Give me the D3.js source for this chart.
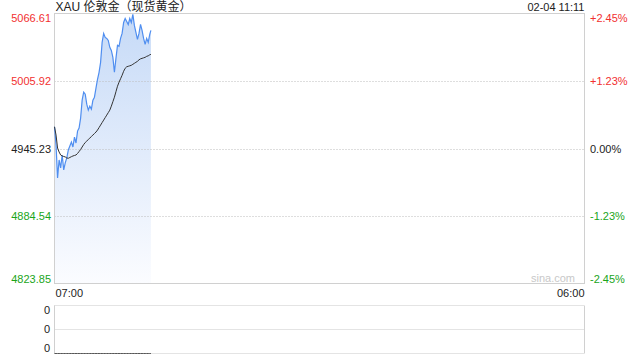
<!DOCTYPE html>
<meta charset="utf-8">
<head>
<title>XAU 伦敦金</title>
<script src="https://cdn.jsdelivr.net/npm/d3@7/dist/d3.min.js"></script>
<style>
  body { margin: 0; background: #fff; }
  svg text { font-family: Arial, "Liberation Sans", "Noto Sans CJK SC", sans-serif; font-size: 11px; }
</style>
</head>
<body>
<svg id="chart"></svg>
<script>
// minutes after 07:00
var minutes = [0,4,8,12,16,20,24,28,32,36,40,44,48,52,56,60,64,68,72,76,80,84,88,92,96,100,104,108,112,116,120,
  124,128,132,136,140,144,148,152,156,160,164,168,172,176,180,184,188,192,196,200,204,208,212,216,220,224,228,232,236,240,244,248,251];
var prices = [4964.76,4948.37,4918.80,4934.93,4927.76,4939.41,4925.97,4932.24,4936.72,4943.89,4947.47,4951.05,4946.57,4955.53,
  4950.16,4960.91,4963.59,4972.55,4988.68,4995.84,4994.05,4985.09,4979.72,4983.30,4980.61,4988.68,4991.36,4999.43,5007.49,
  5013.76,5022.72,5040.63,5048.69,5045.11,5044.22,5042.42,5036.15,5033.47,5027.20,5013.76,5026.30,5037.95,5037.05,5044.22,
  5048.69,5058.55,5062.13,5059.44,5056.76,5062.13,5058.55,5065.80,5055.86,5049.59,5043.32,5048.69,5056.76,5051.38,5044.22,
  5038.84,5044.22,5040.63,5047.80,5051.38];
var avgPrices = [4964.76,4957.32,4945.68,4942.09,4939.41,4938.51,4938.06,4937.62,4936.72,4936.45,4937.17,4937.88,4938.51,4938.96,
  4939.41,4940.75,4942.54,4944.33,4946.57,4948.81,4950.60,4951.95,4953.29,4954.64,4955.98,4957.32,4958.67,4960.01,4961.80,
  4964.04,4966.28,4968.52,4970.76,4973.00,4975.24,4977.48,4979.72,4983.30,4987.33,4991.36,4996.29,5001.22,5004.80,5007.94,
  5011.07,5014.65,5017.34,5018.69,5019.14,5019.58,5020.03,5020.93,5021.82,5022.72,5023.61,5024.96,5025.85,5026.30,5026.75,
  5027.20,5028.09,5028.54,5029.44,5029.88];
var volumes = [0,0,0,0,0,0,0,0,0,0,0,0,0,0,0,0,0,0,0,0,0,0,0,0,0,0,0,0,0,0,0,0,
  0,0,0,0,0,0,0,0,0,0,0,0,0,0,0,0,0,0,0,0,0,0,0,0,0,0,0,0,0,0,0,0];

var prevClose = 4945.23;
var priceTicks = [5066.61, 5005.92, 4945.23, 4884.54, 4823.85];
var pctTicks = ["+2.45%", "+1.23%", "0.00%", "-1.23%", "-2.45%"];
var timeTicks = ["07:00", "06:00"];
var volTicks = ["0", "0", "0"];
var title = "XAU 伦敦金（现货黄金）";
var stamp = "02-04 11:11";

var W = 640, H = 360;
var pLeft = 54.5, pRight = 584.5, pTop = 13.5, pBottom = 283.5;
var vTop = 305.5, vBottom = 353.5;

var svg = d3.select("#chart").attr("width", W).attr("height", H);

var x = d3.scaleLinear().domain([0, 1380]).range([pLeft, pRight]);
var y = d3.scaleLinear().domain([priceTicks[4], priceTicks[0]]).range([pBottom, pTop]);
var yv = d3.scaleLinear().domain([0, 1]).range([vBottom, vTop]);

var defs = svg.append("defs");
var grad = defs.append("linearGradient").attr("id", "fillGrad").attr("x1", 0).attr("y1", 0).attr("x2", 0).attr("y2", 1);
grad.append("stop").attr("offset", "0%").attr("stop-color", "#c6daf7");
grad.append("stop").attr("offset", "100%").attr("stop-color", "#fbfcff");

// area
var area = d3.area().x(function(d, i){ return x(minutes[i]); }).y0(pBottom).y1(function(d){ return y(d); });
svg.append("path").datum(prices).attr("d", area).attr("fill", "url(#fillGrad)");

// grid
var gridVals = priceTicks.slice(1, 4);
svg.selectAll(".grid").data(gridVals).enter().append("line")
  .attr("x1", pLeft).attr("x2", pRight)
  .attr("y1", function(d){ return Math.round(y(d)) + 0.5; }).attr("y2", function(d){ return Math.round(y(d)) + 0.5; })
  .attr("stroke", "#bdbdbd").attr("stroke-dasharray", "1,2");

// frame
svg.append("rect").attr("x", pLeft).attr("y", pTop).attr("width", pRight - pLeft).attr("height", pBottom - pTop)
  .attr("fill", "none").attr("stroke", "#d0d0d0");

// lines
var line = d3.line().x(function(d, i){ return x(minutes[i]); }).y(function(d){ return y(d); });
svg.append("path").datum(prices).attr("d", line).attr("fill", "none").attr("stroke", "#4f8ef0").attr("stroke-width", 1.2);
svg.append("path").datum(avgPrices).attr("d", line).attr("fill", "none").attr("stroke", "#333").attr("stroke-width", 1);

// left labels
function tickColor(i){ return i < 2 ? "#f23030" : (i > 2 ? "#1aa51a" : "#222"); }
function labelY(v, i, n){
  var p = y(v);
  if (i === 0) return p + 8;
  if (i === n - 1) return p - 1;
  return p + 4;
}
svg.selectAll(".ly").data(priceTicks).enter().append("text")
  .attr("x", 51).attr("y", function(d, i){ return labelY(d, i, priceTicks.length); })
  .attr("text-anchor", "end").attr("fill", function(d, i){ return tickColor(i); })
  .text(function(d){ return d.toFixed(2); });

svg.selectAll(".ry").data(pctTicks).enter().append("text")
  .attr("x", 590).attr("y", function(d, i){ return labelY(priceTicks[i], i, pctTicks.length); })
  .attr("fill", function(d, i){ return tickColor(i); })
  .text(function(d){ return d; });

// time labels
svg.append("text").attr("x", pLeft + 1).attr("y", 297).attr("fill", "#222").text(timeTicks[0]);
svg.append("text").attr("x", pRight).attr("y", 297).attr("text-anchor", "end").attr("fill", "#222").text(timeTicks[1]);

// title
svg.append("text").attr("x", pLeft + 1).attr("y", 11).attr("fill", "#222").style("font-size", "12px").text(title);
svg.append("text").attr("x", pRight).attr("y", 11).attr("text-anchor", "end").attr("fill", "#222").text(stamp);

// watermark
svg.append("text").attr("x", 575).attr("y", 282).attr("text-anchor", "end").attr("fill", "#c8c8c8").text("sina.com");

// volume panel
var vGrid = [vTop, (vTop + vBottom) / 2, vBottom];
svg.selectAll(".vg").data(vGrid).enter().append("line")
  .attr("x1", pLeft).attr("x2", pRight)
  .attr("y1", function(d){ return Math.floor(d) + 0.5; }).attr("y2", function(d){ return Math.floor(d) + 0.5; })
  .attr("stroke", "#c8c8c8").attr("stroke-dasharray", "1,1");
[pLeft, pRight].forEach(function(xx){
  svg.append("line").attr("x1", xx).attr("x2", xx).attr("y1", vTop).attr("y2", vBottom).attr("stroke", "#d0d0d0");
});
var vline = d3.line().x(function(d, i){ return x(minutes[i]); }).y(function(d){ return yv(d); });
svg.append("path").datum(volumes).attr("d", vline).attr("fill", "none").attr("stroke", "#555").attr("stroke-width", 1);

svg.selectAll(".vl").data(volTicks).enter().append("text")
  .attr("x", 50).attr("y", function(d, i){ return [314, 333, 352][i]; })
  .attr("text-anchor", "end").attr("fill", "#222").text(function(d){ return d; });
</script>
</body>
</html>
